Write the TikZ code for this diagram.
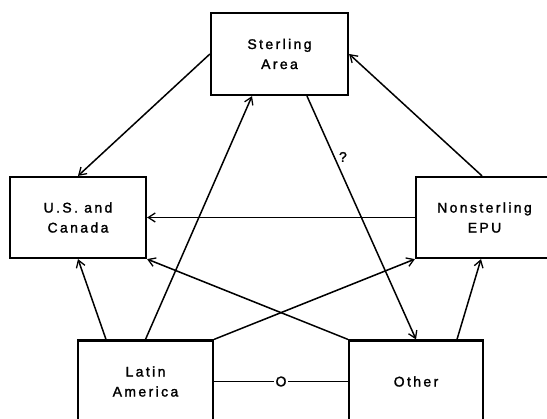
\documentclass[tikz,border=0pt]{standalone}
\usepackage{fontspec}
\setmainfont{Liberation Sans}[LetterSpace=17,FakeBold=1.6]
\usetikzlibrary{arrows.meta}
\begin{document}
\begin{tikzpicture}[x=1pt,y=-1pt,
  box/.style={draw,line width=2.2pt,inner sep=0pt,align=center,font=\fontsize{14}{20}\selectfont},
  conn/.style={line width=1.5pt,-{Straight Barb[length=7pt,width=9pt,line width=1.3pt]}},
  plainline/.style={line width=1.5pt},
  lbl/.style={font=\fontsize{14}{16}\selectfont}]
\useasboundingbox (0,0) rectangle (547,419);
\clip (0,0) rectangle (547,419);
\node[box,minimum width=137pt,minimum height=82pt] (S) at (279.5,54) {Sterling\\Area};
\node[box,minimum width=136pt,minimum height=81pt] (US) at (78,217.5) {U.S. and\\Canada};
\node[box,minimum width=137pt,minimum height=81pt] (NE) at (484.5,217.5) {Nonsterling\\EPU};
\node[box,minimum width=135pt,minimum height=82pt] (LA) at (145.5,381.5) {Latin\\America};
\node[box,minimum width=134pt,minimum height=82pt] (OT) at (416,381.5) {Other};
\draw[conn] (S.west) -- (US.north);
\draw[conn] ([xshift=-2.5pt]NE.north) -- (S.east);
\draw[conn] (LA.north) -- ([xshift=-27.5pt]S.south);
\draw[conn] ([xshift=27.5pt]S.south) -- node[pos=0.25,anchor=west,inner sep=4pt,lbl]{?} (OT.north);
\draw[conn] (NE.west) -- (US.east);
\draw[conn] ([xshift=-39.5pt]LA.north) -- (US.south);
\draw[conn] (LA.north east) -- (NE.south west);
\draw[conn] (OT.north west) -- (US.south east);
\draw[conn] ([xshift=41pt]OT.north) -- ([xshift=-3.5pt]NE.south);
\draw[plainline] (LA.east) -- node[fill=white,inner sep=2pt,lbl]{O} (OT.west);
\end{tikzpicture}
\end{document}
